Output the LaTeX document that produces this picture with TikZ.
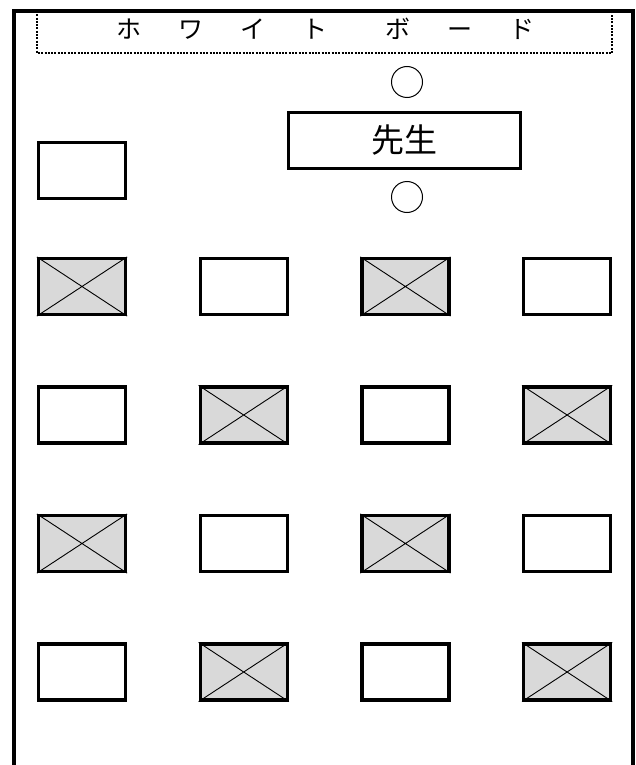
\documentclass[tikz,border=0pt]{standalone}
\usepackage{fontspec}
\newfontfamily\jpfont{Noto Sans CJK JP}
\definecolor{seatgray}{HTML}{D9D9D9}

\begin{document}
\begin{tikzpicture}[
        x=1pt,y=-1pt,
        seat/.style={draw,line width=3.2pt,minimum width=87pt,minimum height=56pt,inner sep=0pt},
        taken/.style={seat,fill=seatgray},
        crossline/.style={line width=.9pt},
        chair/.style={circle,draw,line width=1pt,minimum size=31pt,inner sep=0pt},
        board/.style={font=\jpfont\fontsize{25}{25}\selectfont}
      ]
        \useasboundingbox (0,0) rectangle (635,765);
        % room and whiteboard
        \draw[line width=3.2pt] (14,765) -- (14,11) -- (633,11) -- (633,765);
        \draw[line width=2pt,dash pattern=on 2pt off 1.3pt] (37,11) -- (37,53) -- (612,53) -- (612,11);
        \node[board] (wb) at (325,29) {ホ\hspace{37pt}ワ\hspace{37pt}イ\hspace{37pt}ト\hspace{58pt}ボ\hspace{37pt}ー\hspace{37pt}ド};
        % teacher
        \node[seat,minimum width=232pt,font=\jpfont\fontsize{33}{33}\selectfont] (teacher) at (404.5,140.5) {先生};
        \node[chair] (front) at (407,82) {};
        \node[chair] (back) at (407,197) {};
        \node[seat] (side) at (82,170.5) {};
        % students
        \foreach \r in {0,...,3}{
          \foreach \c in {0,...,3}{
            \pgfmathtruncatemacro{\odd}{mod(\r+\c,2)}
            \ifnum\odd=0
              \node[taken] (s\r\c) at ({82+161.7*\c},{286.5+128.5*\r}) {};
              \draw[crossline] (s\r\c.north west) -- (s\r\c.south east) (s\r\c.north east) -- (s\r\c.south west);
            \else
              \node[seat] (s\r\c) at ({82+161.7*\c},{286.5+128.5*\r}) {};
            \fi
          }
        }
      \end{tikzpicture}
\end{document}
